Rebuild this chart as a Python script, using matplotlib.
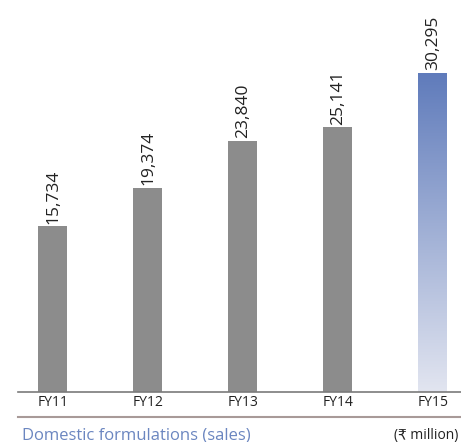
import matplotlib
matplotlib.use("Agg")
import matplotlib.pyplot as plt
import numpy as np
from matplotlib.colors import LinearSegmentedColormap
from matplotlib.lines import Line2D

categories = ["FY11", "FY12", "FY13", "FY14", "FY15"]
values = [15734, 19374, 23840, 25141, 30295]
value_labels = ["15,734", "19,374", "23,840", "25,141", "30,295"]
title = "Domestic formulations (sales)"
unit = "(₹ million)"

W, H = 461, 442
fig = plt.figure(figsize=(W / 100, H / 100), dpi=100)
fam = ["Open Sans", "DejaVu Sans"]

ax_left, ax_right = 18, 461
ax_top, ax_base = 2, 392
ax = fig.add_axes([ax_left / W, (H - ax_base) / H, (ax_right - ax_left) / W, (ax_base - ax_top) / H])

x = np.arange(len(categories))
bw = 0.305
colors = ["#8c8c8c"] * 4 + ["none"]
bars = ax.bar(x, values, width=bw, color=colors, zorder=2)

ax.set_xlim(-0.368, 4.295)
ax.set_ylim(0, 37037)

# gradient for last bar
grad_cmap = LinearSegmentedColormap.from_list("g", ["#e2e5f0", "#5f7bbb"])
last = bars[-1]
gx0, gx1 = x[-1] - bw / 2, x[-1] + bw / 2
grad = np.linspace(0, 1, 256).reshape(-1, 1)
im = ax.imshow(grad, extent=[gx0, gx1, 0, values[-1]], origin="lower",
               cmap=grad_cmap, aspect="auto", zorder=2)
im.set_clip_path(last)

for xi, v, lab in zip(x, values, value_labels):
    ax.text(xi, v + 250, lab, rotation=90, ha="center", va="bottom",
            fontsize=12.5, family=fam, color="#222222")

for s in ["top", "right", "left"]:
    ax.spines[s].set_visible(False)
ax.spines["bottom"].set_color("#7a7a7a")
ax.spines["bottom"].set_linewidth(1.2)
ax.set_yticks([])
ax.set_xticks(x)
ax.set_xticklabels(categories, fontsize=10, family=fam, color="#222222")
ax.tick_params(axis="x", length=0, pad=2)

# second rule line
y2 = (H - 417) / H
fig.add_artist(Line2D([ax_left / W, 1], [y2, y2], color="#a89a98", lw=1.5))

fig.text(22 / W, (H - 435) / H, title, fontsize=12, family=fam,
         color="#6b86c0", va="center", ha="left")
fig.text(458 / W, (H - 435) / H, unit, fontsize=10, family=fam,
         color="#222222", va="center", ha="right")

fig.savefig("out.png", dpi=100)
